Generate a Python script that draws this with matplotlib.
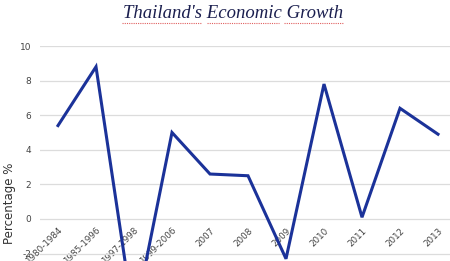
import matplotlib
matplotlib.use("Agg")
import matplotlib.pyplot as plt
import numpy as np

# data
periods = ["1980-1984", "1985-1996", "1997-1998", "1999-2006", "2007", "2008",
           "2009", "2010", "2011", "2012", "2013"]
growth = [5.4, 8.8, -5.9, 5.0, 2.6, 2.5, -2.3, 7.8, 0.1, 6.4, 4.9]
yticks = [-8, -6, -4, -2, 0, 2, 4, 6, 8, 10]

W, H = 450, 261
fig = plt.figure(figsize=(W / 100, H / 100), dpi=100)

# axes box in pixels: left 40, right 450, top (y=10) at 46px, bottom (y=-8) below the image
x0, x1 = 40, 450
ytop_px, yzero_px, px_per_unit = 46, 219, 17.3
ylo, yhi = -8, 10
ybot_px = yzero_px + (-ylo) * px_per_unit
ax = fig.add_axes([x0 / W, 1 - ybot_px / H, (x1 - x0) / W, (ybot_px - ytop_px) / H])

# x labels sit under the zero line (set before ticks, it resets them)
ax.spines["bottom"].set_position(("data", 0))
for s in ax.spines.values():
    s.set_visible(False)

xs = np.arange(len(periods))
# first category at 58px, 38px apart
xlo = -(58 - x0) / 38
xhi = xlo + (x1 - x0) / 38
ax.set_xlim(xlo, xhi)
ax.set_ylim(ylo, yhi)

ax.plot(xs, growth, color="#1b3299", lw=2.2, solid_joinstyle="miter", zorder=3)

ax.set_yticks(yticks)
ax.set_yticklabels([str(v) for v in yticks], fontsize=6.5, color="#444444")
ax.yaxis.grid(True, color="#dcdcdc", lw=0.9)
ax.set_axisbelow(True)
ax.tick_params(axis="y", length=0, pad=6.5)

ax.set_xticks(xs)
ax.set_xticklabels(periods, rotation=45, ha="right", rotation_mode="anchor",
                   fontsize=6.3, color="#444444")
ax.tick_params(axis="x", length=0, pad=5)

fig.text(10 / W, 1 - 203 / H, "Percentage %", rotation=90, fontsize=8.5,
         color="#333333", ha="center", va="center")

# title with spell-check style underlines
fig.text(233 / W, 1 - 13 / H, "Thailand's Economic Growth", family="Liberation Serif",
         style="italic", fontsize=13.5, color="#1b1f4f", ha="center", va="center")
for a, b in [(122, 202), (207, 279), (284, 344)]:
    fig.add_artist(plt.Line2D([a / W, b / W], [1 - 23 / H, 1 - 23 / H],
                              color="#e06060", lw=0.8, ls=(0, (1, 1)),
                              transform=fig.transFigure))

fig.savefig("out.png", dpi=100)
